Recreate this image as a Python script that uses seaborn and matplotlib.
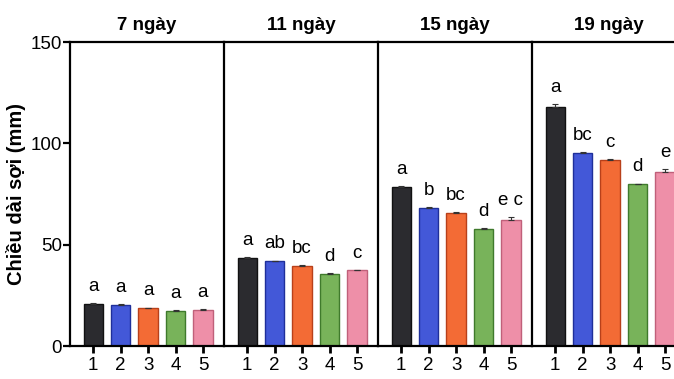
import pandas as pd
import numpy as np
import seaborn as sns
import matplotlib.pyplot as plt

# dữ liệu
days = ["7 ngày", "11 ngày", "15 ngày", "19 ngày"]
treatments = ["1", "2", "3", "4", "5"]
mean_7 = [20.7, 20.2, 18.7, 17.3, 17.8]
mean_11 = [43.3, 41.8, 39.5, 35.5, 37.3]
mean_15 = [78.3, 67.9, 65.5, 57.9, 62.2]
mean_19 = [117.8, 95.1, 91.8, 79.8, 86.0]
sd_7 = [0.3, 0.3, 0.3, 0.4, 0.4]
sd_11 = [0.4, 0.4, 0.4, 0.4, 0.4]
sd_15 = [0.5, 0.5, 0.5, 0.5, 1.5]
sd_19 = [1.5, 0.5, 0.5, 0.4, 1.2]
letters_7 = ["a", "a", "a", "a", "a"]
letters_11 = ["a", "ab", "bc", "d", "c"]
letters_15 = ["a", "b", "bc", "d", "e c"]
letters_19 = ["a", "bc", "c", "d", "e"]

means = [mean_7, mean_11, mean_15, mean_19]
sds = [sd_7, sd_11, sd_15, sd_19]
letters = [letters_7, letters_11, letters_15, letters_19]

colors = ["#2b2b2f", "#4358d8", "#f36b35", "#78b35a", "#ee8fa8"]
edges = ["#111111", "#1f2f9a", "#b8401a", "#3f7a2c", "#c0607a"]

sns.set_style("white")
plt.rcParams['font.family'] = ['Liberation Sans', 'DejaVu Sans']
plt.rcParams['text.color'] = 'black'
plt.rcParams['xtick.color'] = 'black'
plt.rcParams['ytick.color'] = 'black'
plt.rcParams['axes.labelcolor'] = 'black'

fig, axes = plt.subplots(1, 4, figsize=(6.74, 3.79), dpi=100, sharey=True)
fig.subplots_adjust(left=0.104, right=1.018, top=0.889, bottom=0.087, wspace=0)

for i, ax in enumerate(axes):
    df = pd.DataFrame({"nt": treatments, "len": means[i], "sd": sds[i]})
    sns.barplot(data=df, x="nt", y="len", hue="nt", palette=colors, saturation=1,
                legend=False, width=0.7, errorbar=None, ax=ax)
    for p, ec in zip(ax.patches, edges):
        p.set_edgecolor(ec)
        p.set_linewidth(1.0)
    ax.errorbar(np.arange(5), df["len"], yerr=[np.zeros(5), df["sd"]],
                fmt="none", ecolor="#333333", elinewidth=0.8, capsize=2.5, capthick=0.8)
    for k in range(5):
        ax.text(k, means[i][k] + sds[i][k] + 4, letters[i][k],
                ha="center", va="bottom", fontsize=13.5)
    ax.set_title(days[i], fontsize=13.5, fontweight="bold", pad=9)
    ax.set_xlim(-0.84, 4.77)
    ax.set_ylim(0, 150)
    ax.set_xlabel("")
    ax.set_ylabel("")
    for s in ["left", "top", "bottom"]:
        ax.spines[s].set_visible(True)
        ax.spines[s].set_color("black")
        ax.spines[s].set_linewidth(1.6)
    ax.spines["right"].set_visible(False)
    ax.tick_params(axis="x", bottom=True, length=5, width=2, labelsize=13.5, pad=3)
    ax.tick_params(axis="y", left=(i == 0), length=5, width=1.6, labelsize=13.5, pad=1)
    if i > 0:
        ax.tick_params(axis="y", labelleft=False)

axes[0].set_yticks([0, 50, 100, 150])
axes[0].set_ylabel("Chiều dài sợi (mm)", fontsize=14.5, fontweight="bold", labelpad=3)

plt.savefig("out.png", dpi=100)
